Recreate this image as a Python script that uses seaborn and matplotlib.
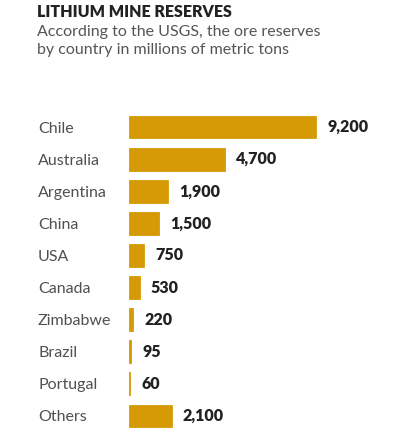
import matplotlib as mpl
import seaborn as sns
import pandas as pd
from matplotlib import pyplot as plt

countries = ['Chile', 'Australia', 'Argentina', 'China', 'USA', 'Canada',
             'Zimbabwe', 'Brazil', 'Portugal', 'Others']
reserves = [9200, 4700, 1900, 1500, 750, 530, 220, 95, 60, 2100]

sns.set_theme(style='white')
mpl.rcParams['font.family'] = ['Lato', 'DejaVu Sans']

df = pd.DataFrame({'country': countries, 'reserves': reserves})

W, H = 395, 443
fig = plt.figure(figsize=(W / 100, H / 100), dpi=100)
ax = fig.add_axes([129 / W, 1 - 432 / H, (W - 129) / W, (432 - 111) / H])

sns.barplot(ax=ax, data=df, x='reserves', y='country', orient='h',
            color='#D69A06', width=0.71, saturation=1,
            edgecolor='#D69A06', linewidth=0.6)
sns.despine(left=True, bottom=True)
ax.set(xlabel='', ylabel='', xlim=(0, 9200 * 266 / 187))
ax.set_xticks([])
ax.tick_params(axis='y', length=0, pad=65.5)
for t in ax.get_yticklabels():
    t.set_horizontalalignment('left')
    t.set_fontsize(11.5)
    t.set_color('#505050')
    t.set_fontweight('normal')

ax.bar_label(ax.containers[0], df['reserves'].map(lambda v: f'{v:,}').to_list(),
             padding=8, fontsize=11.5, fontweight='heavy', color='#222222')

fig.text(37 / W, 1 - 12 / H, 'LITHIUM MINE RESERVES', fontsize=11.5,
         fontweight='heavy', color='#222222', va='center')
fig.text(37 / W, 1 - 32 / H, 'According to the USGS, the ore reserves',
         fontsize=11.5, color='#555555', va='center')
fig.text(37 / W, 1 - 50 / H, 'by country in millions of metric tons',
         fontsize=11.5, color='#555555', va='center')

fig.savefig('out.png', dpi=100)
